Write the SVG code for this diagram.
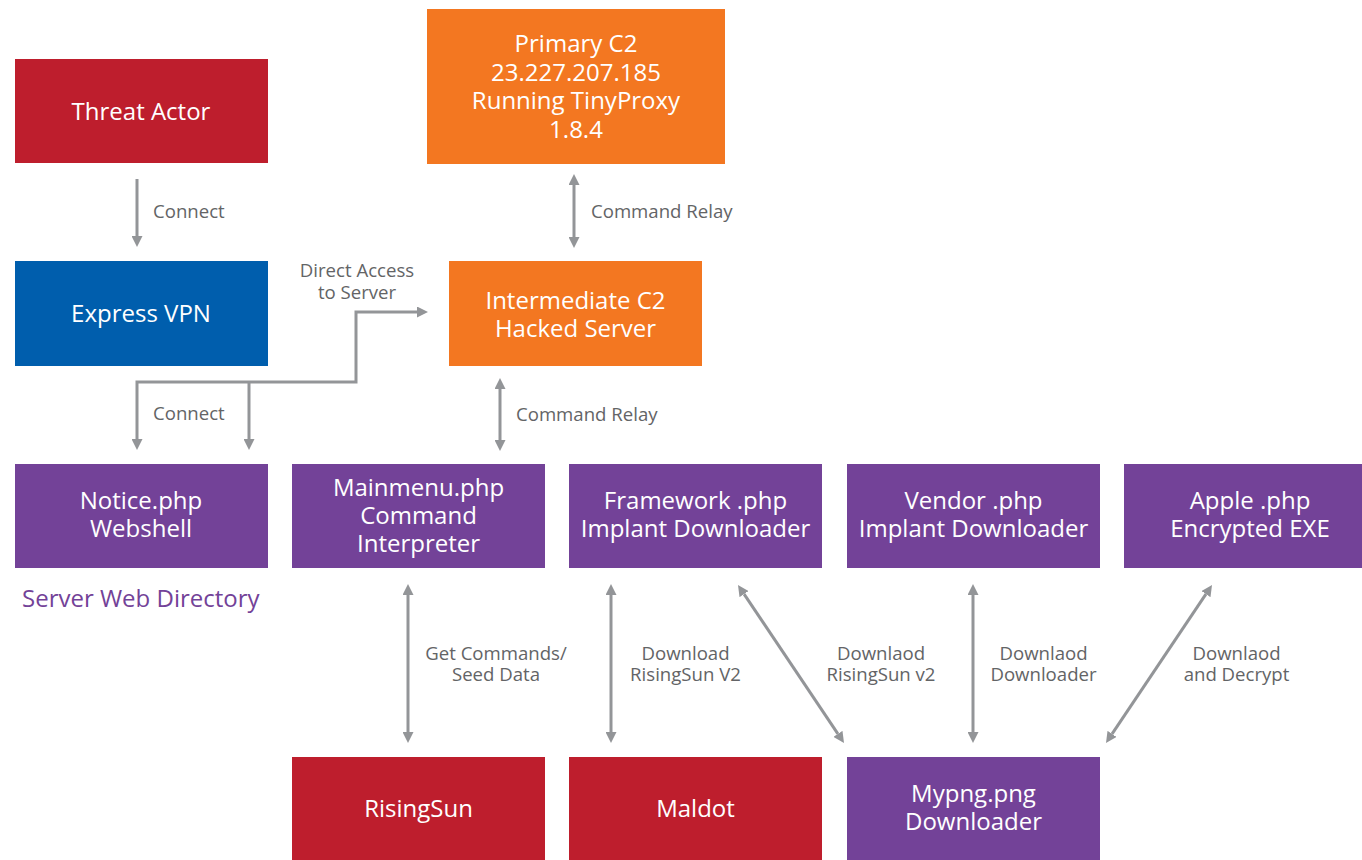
<svg xmlns="http://www.w3.org/2000/svg" width="1362" height="860" viewBox="0 0 1362 860">
<defs>
<style>
.red{fill:#BE1E2D}
.orange{fill:#F37721}
.blue{fill:#005EAD}
.purple{fill:#734298}
.nt{font-family:"Open Sans","Liberation Sans",sans-serif;font-size:24px;fill:#FFFFFF;text-anchor:middle}
.lb{font-family:"Open Sans","Liberation Sans",sans-serif;font-size:18.6px;fill:#636466}
.mid{text-anchor:middle}
.cn{fill:none;stroke:#939598;stroke-width:3}
</style>
<marker id="ah" viewBox="0 0 11 11" refX="0" refY="5.5" markerWidth="11" markerHeight="11" markerUnits="userSpaceOnUse" orient="auto-start-reverse">
<path d="M0,0 L11,5.5 L0,11 z" fill="#939598"/>
</marker>
</defs>
<rect width="1362" height="860" fill="#FFFFFF"/>

<g id="threat-actor">
<rect class="red" x="15" y="59" width="253" height="104"/>
<text class="nt" x="141" y="119.5">Threat Actor</text>
</g>
<g id="express-vpn">
<rect class="blue" x="15" y="261" width="253" height="105"/>
<text class="nt" x="141" y="321.5">Express VPN</text>
</g>
<g id="primary-c2">
<rect class="orange" x="427" y="9" width="298" height="155"/>
<text class="nt" x="576" y="52">Primary C2</text>
<text class="nt" x="576" y="80.5">23.227.207.185</text>
<text class="nt" x="576" y="109">Running TinyProxy</text>
<text class="nt" x="576" y="137.5">1.8.4</text>
</g>
<g id="intermediate-c2">
<rect class="orange" x="449" y="261" width="253" height="105"/>
<text class="nt" x="575.5" y="309">Intermediate C2</text>
<text class="nt" x="575.5" y="337">Hacked Server</text>
</g>
<g id="notice-php">
<rect class="purple" x="15" y="464" width="253" height="104"/>
<text class="nt" x="141" y="509">Notice.php</text>
<text class="nt" x="141" y="537">Webshell</text>
</g>
<g id="mainmenu-php">
<rect class="purple" x="292" y="464" width="253" height="104"/>
<text class="nt" x="418.5" y="495.5">Mainmenu.php</text>
<text class="nt" x="418.5" y="523.5">Command</text>
<text class="nt" x="418.5" y="551.5">Interpreter</text>
</g>
<g id="framework-php">
<rect class="purple" x="569" y="464" width="253" height="104"/>
<text class="nt" x="695.5" y="509">Framework .php</text>
<text class="nt" x="695.5" y="537">Implant Downloader</text>
</g>
<g id="vendor-php">
<rect class="purple" x="847" y="464" width="253" height="104"/>
<text class="nt" x="973.5" y="509">Vendor .php</text>
<text class="nt" x="973.5" y="537">Implant Downloader</text>
</g>
<g id="apple-php">
<rect class="purple" x="1124" y="464" width="238" height="104"/>
<text class="nt" x="1250" y="509">Apple .php</text>
<text class="nt" x="1250" y="537">Encrypted EXE</text>
</g>
<g id="server-web-directory">
<text x="22" y="606.5" style="font-family:'Open Sans','Liberation Sans',sans-serif;font-size:24px;fill:#734298">Server Web Directory</text>
</g>
<g id="risingsun">
<rect class="red" x="292" y="757" width="253" height="103"/>
<text class="nt" x="418.5" y="817">RisingSun</text>
</g>
<g id="maldot">
<rect class="red" x="569" y="757" width="253" height="103"/>
<text class="nt" x="695.5" y="817">Maldot</text>
</g>
<g id="mypng-png">
<rect class="purple" x="847" y="757" width="253" height="103"/>
<text class="nt" x="973.5" y="802">Mypng.png</text>
<text class="nt" x="973.5" y="830">Downloader</text>
</g>

<g id="connectors">
<path class="cn" d="M137,179 V236" marker-end="url(#ah)"/>
<path class="cn" d="M137,439 V382 H356 V312 H417" marker-start="url(#ah)" marker-end="url(#ah)"/>
<path class="cn" d="M249,382 V439" marker-end="url(#ah)"/>
<path class="cn" d="M574,185 V237" marker-start="url(#ah)" marker-end="url(#ah)"/>
<path class="cn" d="M500,389 V440" marker-start="url(#ah)" marker-end="url(#ah)"/>
<path class="cn" d="M408,595 V732" marker-start="url(#ah)" marker-end="url(#ah)"/>
<path class="cn" d="M611,595 V732" marker-start="url(#ah)" marker-end="url(#ah)"/>
<path class="cn" d="M973,595 V732" marker-start="url(#ah)" marker-end="url(#ah)"/>
<path class="cn" d="M744.1,594.1 L837.9,733.9" marker-start="url(#ah)" marker-end="url(#ah)"/>
<path class="cn" d="M1205.9,594.1 L1112.1,733.9" marker-start="url(#ah)" marker-end="url(#ah)"/>

<text class="lb" x="153" y="218">Connect</text>
<text class="lb" x="153" y="420">Connect</text>
<text class="lb mid" x="357" y="276.5">Direct Access</text>
<text class="lb mid" x="357" y="299">to Server</text>
<text class="lb" x="591" y="218">Command Relay</text>
<text class="lb" x="516" y="420.5">Command Relay</text>
<text class="lb mid" x="496" y="659.5">Get Commands/</text>
<text class="lb mid" x="496" y="681">Seed Data</text>
<text class="lb mid" x="685.5" y="659.5">Download</text>
<text class="lb mid" x="685.5" y="681">RisingSun V2</text>
<text class="lb mid" x="881" y="659.5">Downlaod</text>
<text class="lb mid" x="881" y="681">RisingSun v2</text>
<text class="lb mid" x="1043.5" y="659.5">Downlaod</text>
<text class="lb mid" x="1043.5" y="681">Downloader</text>
<text class="lb mid" x="1236.5" y="659.5">Downlaod</text>
<text class="lb mid" x="1236.5" y="681">and Decrypt</text>
</g>
</svg>
